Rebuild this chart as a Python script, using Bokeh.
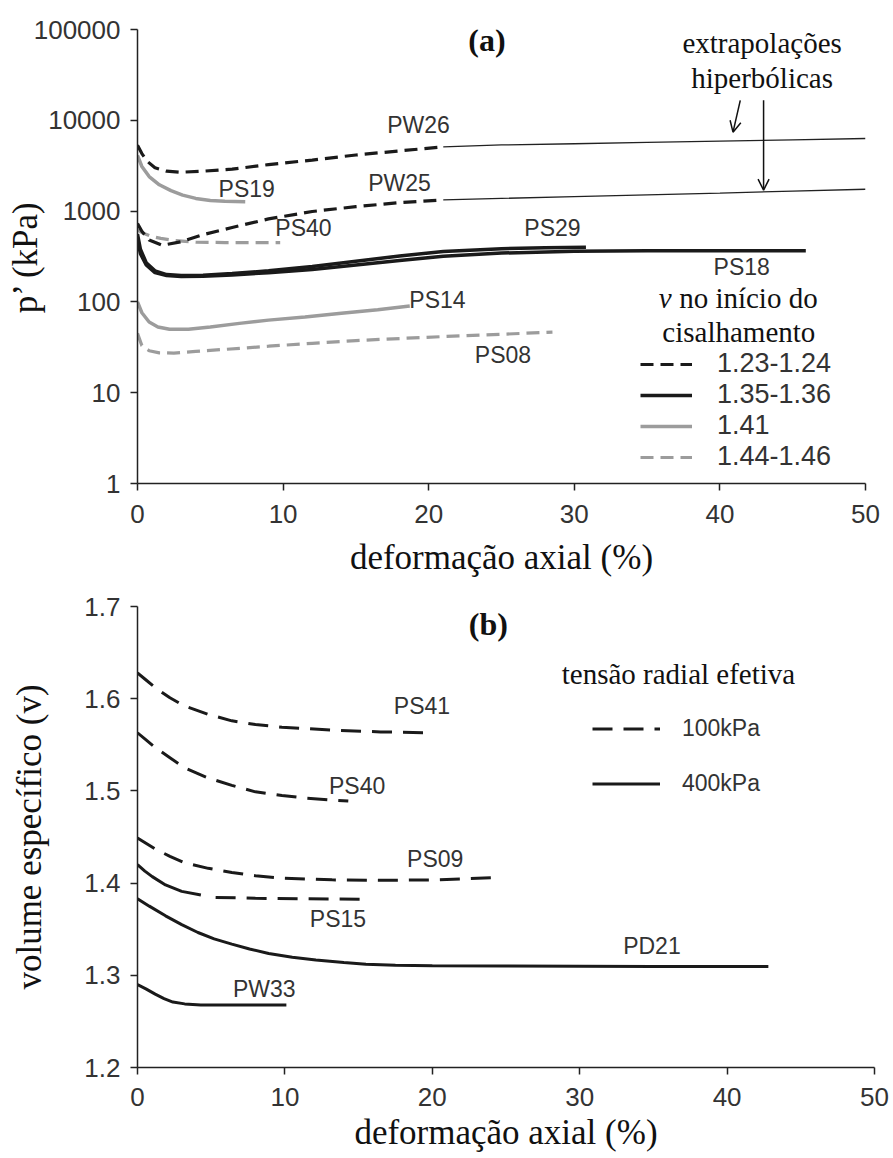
from bokeh.plotting import figure
from bokeh.models import (Label, Legend, LegendItem, Arrow, OpenHead, FixedTicker,
                          PrintfTickFormatter, Range1d)
from bokeh.layouts import column
from bokeh.embed import file_html
from bokeh.resources import INLINE

SANS = "Liberation Sans"
SERIF = "Liberation Serif"

# ---------------- data: panel (a)  p' (kPa) vs axial strain (%) ----------------
pw26_x = [0, 0.3, 0.7, 1.2, 2, 3, 4.5, 6.5, 9, 12, 15, 18, 21]
pw26_y = [5300, 4300, 3500, 3000, 2750, 2680, 2750, 2900, 3250, 3650, 4150, 4600, 5100]
pw26_ext_x = [21, 25, 30, 35, 40, 45, 50]
pw26_ext_y = [5100, 5350, 5520, 5700, 5900, 6100, 6300]

pw25_x = [0, 0.3, 0.8, 1.7, 3, 4.5, 6.5, 9, 12, 15, 18, 21]
pw25_y = [730, 600, 480, 420, 460, 550, 660, 820, 990, 1120, 1240, 1330]
pw25_ext_x = [21, 25, 30, 35, 40, 45, 50]
pw25_ext_y = [1330, 1380, 1440, 1510, 1580, 1660, 1740]

ps19_x = [0, 0.3, 0.8, 1.5, 2.3, 3.1, 4.0, 5.0, 6.0, 7.4]
ps19_y = [4100, 3100, 2400, 1950, 1680, 1500, 1380, 1310, 1280, 1270]

ps40a_x = [0, 0.4, 0.9, 1.6, 2.5, 4, 6, 8, 9.8]
ps40a_y = [620, 570, 530, 500, 475, 455, 450, 450, 450]

ps29_x = [0, 0.2, 0.6, 1.2, 2, 3, 4.5, 6.5, 9, 12, 15, 18, 21, 25, 28, 30.8]
ps29_y = [560, 380, 270, 220, 200, 195, 197, 205, 220, 245, 280, 320, 360, 385, 395, 400]

ps18_x = [0, 0.2, 0.6, 1.2, 2, 3, 4.5, 6.5, 9, 12, 15, 18, 21, 25, 30, 35, 40, 45.9]
ps18_y = [480, 340, 255, 210, 195, 190, 192, 198, 210, 228, 255, 285, 318, 345, 362, 365, 365, 365]

ps14_x = [0, 0.3, 0.8, 1.4, 2.2, 3.5, 5, 7, 9, 11.5, 14, 16.5, 18.7]
ps14_y = [100, 76, 60, 53, 50, 50, 53, 58, 63, 68, 75, 82, 90]

ps08_x = [0, 0.3, 0.8, 1.5, 2.5, 4, 6, 9, 12, 15, 18, 21, 25, 28.5]
ps08_y = [45, 33, 29, 27.5, 27.3, 28.5, 30, 32.5, 35, 37.5, 39.5, 41.5, 44, 46.5]

legend_a_labels = ["1.23-1.24", "1.35-1.36", "1.41", "1.44-1.46"]

# ---------------- data: panel (b)  specific volume vs axial strain (%) ----------------
ps41_x = [0, 0.6, 1.2, 2.2, 3.2, 4.8, 6.4, 8, 9.8, 13.2, 16.5, 19.7]
ps41_y = [1.628, 1.620, 1.612, 1.601, 1.592, 1.583, 1.576, 1.572, 1.569, 1.566, 1.564, 1.563]

ps40b_x = [0, 0.6, 1.2, 2.2, 3.2, 4.8, 6.4, 8, 9.8, 11.5, 13.2, 14.3]
ps40b_y = [1.563, 1.555, 1.547, 1.536, 1.525, 1.514, 1.506, 1.499, 1.495, 1.492, 1.490, 1.489]

ps09_x = [0, 0.6, 1.2, 2.2, 3.2, 4.8, 6.4, 8, 9.8, 13.2, 16.5, 20, 22, 24.4]
ps09_y = [1.449, 1.443, 1.437, 1.429, 1.422, 1.416, 1.4115, 1.408, 1.4054, 1.4035, 1.403, 1.4035, 1.4045, 1.406]

ps15_solid_x = [0, 0.5, 1, 1.9, 3, 4.3]
ps15_solid_y = [1.420, 1.413, 1.407, 1.398, 1.391, 1.387]
ps15_dash_x = [5.3, 8, 11, 15.1]
ps15_dash_y = [1.3845, 1.3835, 1.383, 1.3826]

pd21_x = [0, 0.8, 1.9, 3, 4.1, 5.2, 6.4, 7.6, 8.9, 10.5, 12.1, 14, 15.5, 17.5, 20, 25, 30, 35, 42.8]
pd21_y = [1.383, 1.375, 1.3645, 1.355, 1.3464, 1.3395, 1.3338, 1.3285, 1.3236, 1.3195, 1.3165,
          1.314, 1.3121, 1.311, 1.3103, 1.31, 1.3098, 1.3096, 1.3095]

pw33_x = [0, 0.6, 1.2, 1.8, 2.4, 3.2, 4.3, 6, 8, 10.1]
pw33_y = [1.290, 1.285, 1.2796, 1.2748, 1.2710, 1.2690, 1.2678, 1.2677, 1.2677, 1.2677]

legend_b_labels = ["100kPa", "400kPa"]

x_ticks = [0, 10, 20, 30, 40, 50]
ya_ticks = [1, 10, 100, 1000, 10000, 100000]
yb_ticks = [1.2, 1.3, 1.4, 1.5, 1.6, 1.7]

BLACK = "#1a1a1a"
GRAY = "#9c9c9c"


def style(p):
    p.xgrid.visible = False
    p.ygrid.visible = False
    p.outline_line_color = None
    p.background_fill_color = "white"
    p.border_fill_color = "white"
    for ax in (p.xaxis[0], p.yaxis[0]):
        ax.axis_line_color = "#222222"
        ax.axis_line_width = 1.5
        ax.major_tick_line_color = "#222222"
        ax.major_tick_line_width = 1.5
        ax.major_tick_out = 7
        ax.major_tick_in = 0
        ax.minor_tick_line_color = None
        ax.major_label_text_font = SANS
        ax.major_label_text_font_size = "26px"
        ax.major_label_text_color = "#333333"
        ax.axis_label_text_font = SERIF
        ax.axis_label_text_font_size = "35px"
        ax.axis_label_text_font_style = "normal"
        ax.axis_label_text_color = "#111111"


def lab(p, x, y, text, size="23px", font=SANS, style_="normal", align="center", color="#333333"):
    p.add_layout(Label(x=x, y=y, text=text, text_font=font, text_font_size=size,
                       text_font_style=style_, text_align=align, text_baseline="middle",
                       text_color=color))


# ================= panel (a) =================
pa = figure(frame_width=728, frame_height=454, y_axis_type="log",
            x_range=Range1d(0, 50), y_range=Range1d(1, 100000),
            output_backend="svg", toolbar_location=None,
            min_border_left=137, min_border_right=15, min_border_top=29, min_border_bottom=105)
style(pa)
pa.xaxis.ticker = FixedTicker(ticks=x_ticks)
pa.yaxis.ticker = FixedTicker(ticks=ya_ticks)
pa.yaxis.formatter = PrintfTickFormatter(format="%d")
pa.xaxis.major_label_standoff = 14
pa.yaxis.major_label_standoff = 10
pa.xaxis.axis_label = "deformação axial (%)"
pa.yaxis.axis_label = "p’ (kPa)"
pa.xaxis.axis_label_standoff = 12
pa.yaxis.axis_label_standoff = -14

# extrapolations (thin)
pa.line(pw26_ext_x, pw26_ext_y, line_color="#222222", line_width=1.3)
pa.line(pw25_ext_x, pw25_ext_y, line_color="#222222", line_width=1.3)

r_ps08 = pa.line(ps08_x, ps08_y, line_color=GRAY, line_width=3.2, line_dash="13 7")
r_ps14 = pa.line(ps14_x, ps14_y, line_color=GRAY, line_width=3.5)
r_ps40 = pa.line(ps40a_x, ps40a_y, line_color=GRAY, line_width=3.2, line_dash="13 7")
r_ps19 = pa.line(ps19_x, ps19_y, line_color=GRAY, line_width=3.5)
r_ps18 = pa.line(ps18_x, ps18_y, line_color=BLACK, line_width=3.5)
r_ps29 = pa.line(ps29_x, ps29_y, line_color=BLACK, line_width=3.5)
r_pw25 = pa.line(pw25_x, pw25_y, line_color=BLACK, line_width=3.2, line_dash="13 7")
r_pw26 = pa.line(pw26_x, pw26_y, line_color=BLACK, line_width=3.2, line_dash="13 7")

lab(pa, 24.0, 76400, "(a)", size="32px", font=SERIF, style_="bold", color="#111111")
lab(pa, 42.9, 70600, "extrapolações", size="29px", font=SERIF, color="#111111")
lab(pa, 42.9, 29100, "hiperbólicas", size="29px", font=SERIF, color="#111111")
lab(pa, 19.3, 8830, "PW26")
lab(pa, 18.0, 2030, "PW25")
lab(pa, 7.5, 1730, "PS19")
lab(pa, 11.4, 649, "PS40")
lab(pa, 28.5, 649, "PS29")
lab(pa, 41.5, 241, "PS18")
lab(pa, 20.6, 104, "PS14")
lab(pa, 25.1, 25.9, "PS08")

lab(pa, 35.8, 109.6, "v", size="29px", font=SERIF, style_="italic", align="left", color="#111111")
lab(pa, 37.2, 109.6, "no início do", size="29px", font=SERIF, align="left", color="#111111")
lab(pa, 41.3, 46.4, "cisalhamento", size="29px", font=SERIF, color="#111111")

arrow_x0 = [41.4, 43.0]
arrow_y0 = [16600, 16600]
arrow_x1 = [40.9, 43.0]
arrow_y1 = [7400, 1700]
for xs, ys, xe, ye in zip(arrow_x0, arrow_y0, arrow_x1, arrow_y1):
    pa.add_layout(Arrow(x_start=xs, y_start=ys, x_end=xe, y_end=ye,
                        line_color="#111111", line_width=1.5,
                        end=OpenHead(size=11, line_width=1.5, line_color="#111111")))

leg_a = Legend(items=[LegendItem(label=legend_a_labels[0], renderers=[r_pw26]),
                      LegendItem(label=legend_a_labels[1], renderers=[r_ps29]),
                      LegendItem(label=legend_a_labels[2], renderers=[r_ps19]),
                      LegendItem(label=legend_a_labels[3], renderers=[r_ps40])],
               location=(503, 11), padding=0, margin=0, spacing=0,
               glyph_width=52, glyph_height=30, label_height=30, label_standoff=25,
               label_text_font=SANS, label_text_font_size="27px", label_text_color="#333333",
               border_line_alpha=0, background_fill_alpha=0)
pa.add_layout(leg_a)

# ================= panel (b) =================
pb = figure(frame_width=737, frame_height=461,
            x_range=Range1d(0, 50), y_range=Range1d(1.2, 1.7),
            output_backend="svg", toolbar_location=None,
            min_border_left=137, min_border_right=15, min_border_top=18, min_border_bottom=90)
style(pb)
pb.xaxis.ticker = FixedTicker(ticks=x_ticks)
pb.yaxis.ticker = FixedTicker(ticks=yb_ticks)
pb.yaxis.formatter = PrintfTickFormatter(format="%.1f")
pb.xaxis.major_label_standoff = 13
pb.yaxis.major_label_standoff = 10
pb.xaxis.axis_label = "deformação axial (%)"
pb.yaxis.axis_label = "volume específico (v)"
pb.xaxis.axis_label_standoff = 4
pb.yaxis.axis_label_standoff = 32

r_ps41 = pb.line(ps41_x, ps41_y, line_color=BLACK, line_width=3, line_dash="20 11")
pb.line(ps40b_x, ps40b_y, line_color=BLACK, line_width=3, line_dash="20 11")
pb.line(ps09_x, ps09_y, line_color=BLACK, line_width=3, line_dash="20 11")
pb.line(ps15_solid_x, ps15_solid_y, line_color=BLACK, line_width=3)
pb.line(ps15_dash_x, ps15_dash_y, line_color=BLACK, line_width=3, line_dash="20 11")
r_pd21 = pb.line(pd21_x, pd21_y, line_color=BLACK, line_width=3)
pb.line(pw33_x, pw33_y, line_color=BLACK, line_width=3)

lab(pb, 23.8, 1.681, "(b)", size="32px", font=SERIF, style_="bold", color="#111111")
lab(pb, 36.7, 1.627, "tensão radial efetiva", size="29px", font=SERIF, color="#111111")
lab(pb, 19.3, 1.592, "PS41")
lab(pb, 14.9, 1.5055, "PS40")
lab(pb, 20.2, 1.426, "PS09")
lab(pb, 13.6, 1.361, "PS15")
lab(pb, 34.9, 1.332, "PD21")
lab(pb, 8.6, 1.285, "PW33")

leg_b = Legend(items=[LegendItem(label=legend_b_labels[0], renderers=[r_ps41]),
                      LegendItem(label=legend_b_labels[1], renderers=[r_pd21])],
               location=(455, 270), padding=0, margin=0, spacing=28,
               glyph_width=68, glyph_height=27, label_height=27, label_standoff=22,
               label_text_font=SANS, label_text_font_size="23px", label_text_color="#333333",
               border_line_alpha=0, background_fill_alpha=0)
pb.add_layout(leg_b)

layout = column(pa, pb)
open("out.html", "w").write(file_html(layout, INLINE))
